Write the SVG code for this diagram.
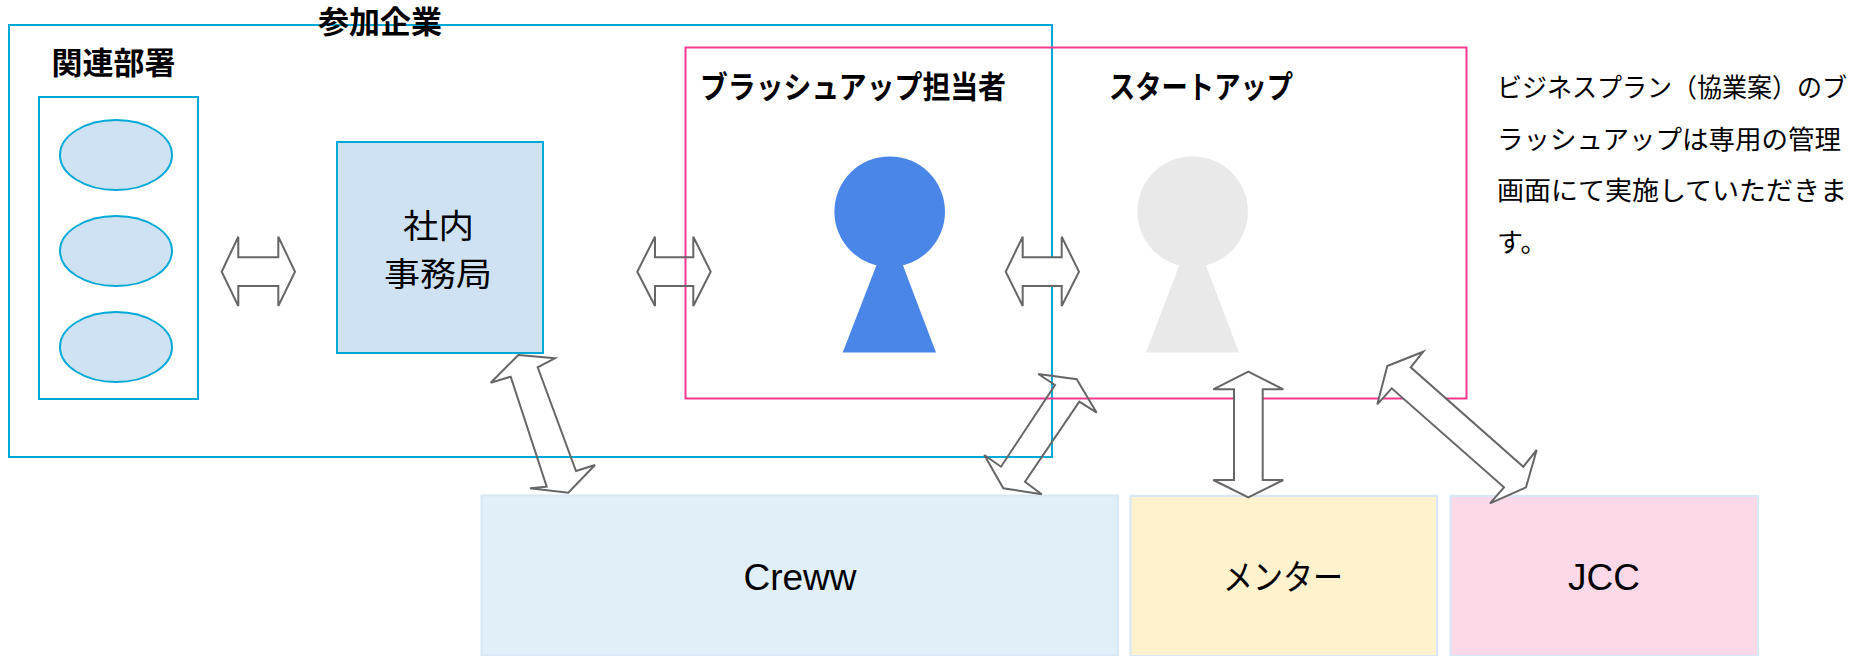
<svg xmlns="http://www.w3.org/2000/svg" width="1864" height="656" viewBox="0 0 1864 656">
<style>
.jp{font-family:"Noto Sans CJK JP","Noto Sans",sans-serif;fill:#000}
.b{font-weight:bold}
.lat{font-family:"Liberation Sans",Arial,sans-serif;fill:#000}
.cyan{fill:none;stroke:#00a9d6;stroke-width:2}
.pink{fill:none;stroke:#f7398f;stroke-width:2}
.dept{fill:#cfe2f3;stroke:#00a9d6;stroke-width:2}
.arr{fill:#fff;stroke:#666;stroke-width:2;stroke-linejoin:miter}
.arrc{fill:none;stroke:#666;stroke-width:2;stroke-linejoin:miter}
.ext{stroke:#d6e8f5;stroke-width:2}
</style>
<rect width="1864" height="656" fill="#fff"/>
<g id="company">
<rect class="cyan" x="9" y="25" width="1043" height="432"/>
<text class="jp b" x="380" y="33" font-size="31" text-anchor="middle">参加企業</text>
</g>
<g id="departments">
<rect class="cyan" x="39" y="97" width="159" height="302"/>
<text class="jp b" x="113.5" y="74" font-size="31" text-anchor="middle">関連部署</text>
<ellipse class="dept" cx="116" cy="155" rx="56" ry="35"/>
<ellipse class="dept" cx="116" cy="251" rx="56" ry="35"/>
<ellipse class="dept" cx="116" cy="347" rx="56" ry="35"/>
</g>
<g id="office">
<rect class="dept" x="337" y="142" width="206" height="211"/>
<text class="jp" x="403" y="238" font-size="33" textLength="71" lengthAdjust="spacingAndGlyphs">社内</text>
<text class="jp" x="384" y="286" font-size="33" textLength="108" lengthAdjust="spacingAndGlyphs">事務局</text>
</g>
<g id="brushup-area">
<rect class="pink" x="685.5" y="47.5" width="781" height="351"/>
</g>
<g id="brushup-person">
<text class="jp b" x="700" y="98" font-size="31" textLength="306" lengthAdjust="spacingAndGlyphs">ブラッシュアップ担当者</text>
<circle cx="889.7" cy="211.7" r="55.3" fill="#4a86e8"/>
<polygon points="877.7,262 901.7,262 936,352.5 842.7,352.5" fill="#4a86e8"/>
</g>
<g id="startup">
<text class="jp b" x="1109" y="98" font-size="31" textLength="184" lengthAdjust="spacingAndGlyphs">スタートアップ</text>
<circle cx="1192.6" cy="211.7" r="55.3" fill="#e9e9e9"/>
<polygon points="1180.6,262 1204.6,262 1239,352.5 1146,352.5" fill="#e9e9e9"/>
</g>
<g id="note">
<text class="jp" x="1497" y="97" font-size="26" textLength="350" lengthAdjust="spacingAndGlyphs">ビジネスプラン（協業案）のブ</text>
<text class="jp" x="1497" y="149" font-size="26" textLength="344" lengthAdjust="spacingAndGlyphs">ラッシュアップは専用の管理</text>
<text class="jp" x="1497" y="200" font-size="26" textLength="350" lengthAdjust="spacingAndGlyphs">画面にて実施していただきま</text>
<text class="jp" x="1497" y="252" font-size="26">す。</text>
</g>
<g id="creww">
<rect class="ext" x="481.5" y="495.5" width="636.5" height="160" fill="#e1eff9"/>
<text class="lat" x="800" y="590" font-size="37" text-anchor="middle">Creww</text>
</g>
<g id="mentor">
<rect class="ext" x="1130.5" y="496" width="306.5" height="160" fill="#fff2cc"/>
<text class="jp" x="1223" y="590" font-size="35" textLength="120" lengthAdjust="spacingAndGlyphs">メンター</text>
</g>
<g id="jcc">
<rect class="ext" x="1450.5" y="496" width="307.5" height="160" fill="#fcd9e9"/>
<text class="lat" x="1604" y="590" font-size="37" text-anchor="middle">JCC</text>
</g>
<g id="connectors">
<polygon class="arr" points="221.7,271.7 238.3,236.7 238.3,257.3 278.3,257.3 278.3,236.7 295,271.7 278.3,306 278.3,286 238.3,286 238.3,306"/>
<polygon class="arrc" points="637.3,271.7 655,236.7 655,257.3 693.3,257.3 693.3,236.7 710.7,271.7 693.3,306 693.3,286 655,286 655,306"/>
<polygon class="arr" points="1005.7,271.7 1022.7,236.7 1022.7,257.3 1061.7,257.3 1061.7,236.7 1079,271.7 1061.7,306 1061.7,286 1022.7,286 1022.7,306"/>
<polygon class="arrc" points="518.3,355 555,358.3 537.7,367.3 576,471 595,465 568.3,492.7 530,488.3 546.7,486.7 510.7,376.7 490.7,382.7"/>
<polygon class="arrc" points="1038.3,374 1076.7,379.3 1096.7,412.7 1079.3,401.7 1025,481.7 1041.7,494.3 1003.3,488.3 984.3,455 1001,466.7 1055,385"/>
<polygon class="arr" points="1248.3,371.7 1283.3,389.3 1262.7,389.3 1262.7,480 1283.3,480 1248.3,497.3 1213.3,480 1234,480 1234,389.3 1213.3,389.3"/>
<polygon class="arr" points="1387.3,366 1423.3,351.7 1410.7,367.3 1523.3,466.7 1536.7,450 1526,487.3 1490,503.3 1504,487.3 1391.7,388.3 1377.3,404.3"/>
</g>
</svg>
